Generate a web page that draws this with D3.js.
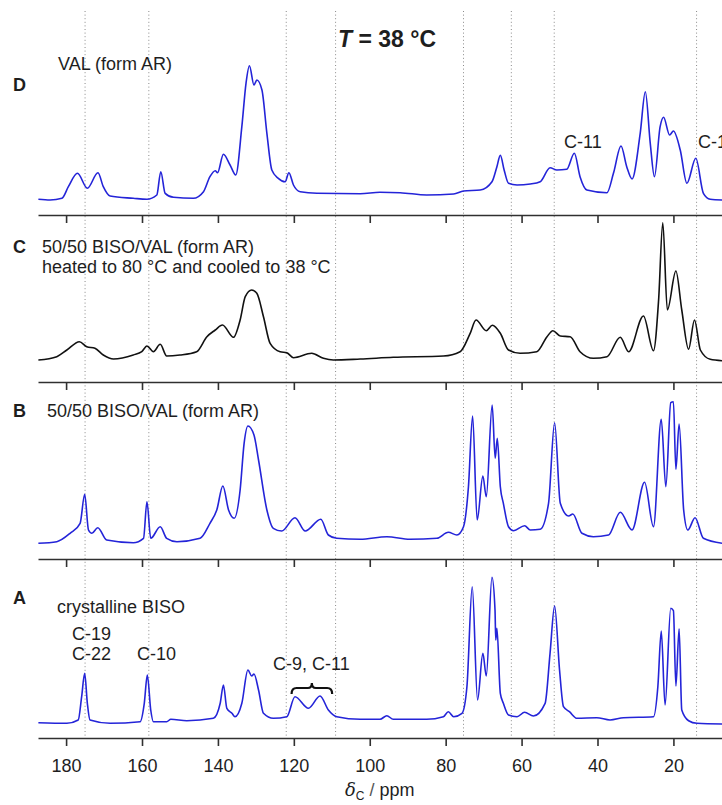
<!DOCTYPE html>
<html>
<head>
<meta charset="utf-8">
<script src="https://cdn.jsdelivr.net/npm/d3@7"></script>
<style>
  html, body { margin: 0; padding: 0; background: #fff; }
  svg { display: block; }
  text { font-family: "Liberation Sans", Arial, Helvetica, sans-serif; fill: #1e1e1e; }
</style>
</head>
<body>
<svg id="chart" width="722" height="805"></svg>
<script>
// 13C CP/MAS spectra, chemical shift (ppm) vs. intensity (a.u.)
const ppmTicks = [180, 160, 140, 120, 100, 80, 60, 40, 20];
const guideShifts = [175, 158.2, 122, 109, 75.3, 62.7, 51.4, 13.9];

// D: VAL (form AR)
const spectrumD = [
  [187.3,15.7],[184.2,15],[181.1,16.7],[179.4,28.3],[177.0,41.7],[174.4,26.7],[171.6,42.3],[170.2,28.3],
  [168.4,19],[162.3,16.7],[158.7,15.7],[156.1,20],[155.05,43.3],[153.9,21.7],[151.7,17.7],[146.5,16.7],
  [143.8,23.3],[142.1,38.3],[140.7,44.3],[140.1,42.3],[138.55,60.7],[136.8,50],[135.3,40],[133.7,88.3],
  [132.6,131.7],[131.7,149.3],[130.5,130],[129.75,135],[128.4,125],[127.1,81.7],[125.8,45],[124.1,36.7],
  [122.3,33.3],[121.3,42.3],[120.1,30],[118.3,23.3],[113.9,21.7],[102.5,21.3],[97.3,22.7],[92.0,22.3],
  [85.0,20],[77.9,21],[75.3,24],[70.9,25],[67.8,33.3],[66.5,48.3],[65.6,59.7],[64.6,45],[63.45,31.7],
  [61.2,30],[57.7,31],[55.1,33.3],[52.5,47.3],[50.7,45],[48.1,45.7],[46.1,61.7],[44.6,38.3],[42.8,25],
  [37.5,22.3],[35.8,41.7],[33.8,69],[32.3,48.3],[30.9,36],[28.75,81.7],[27.4,123.3],[26.1,71.7],[25.0,38.3],
  [23.5,88.3],[22.6,97.7],[21.0,80],[20.0,84],[18.2,65],[16.45,31.7],[14.1,56.7],[12.1,21.7],[10.3,15.7],
  [7.1,15]
];

// C: 50/50 BISO/VAL (form AR), heated to 80 °C and cooled to 38 °C
const spectrumC = [
  [187.3,22],[182.45,25.3],[179.8,32],[176.5,40.3],[174.55,35.3],[172.4,33.7],[170.2,27],[167.5,23],
  [162.3,27],[160.05,30.3],[158.7,36],[157.0,30.3],[155.2,37.7],[153.5,26],[150.0,27],[145.6,30.3],
  [142.9,45.3],[140.7,52],[138.8,57],[135.9,44.7],[134.15,62],[132.8,85.3],[131.1,92],[129.75,88.7],
  [128.0,65.3],[126.25,38.7],[123.6,30.3],[121.85,29.3],[120.1,24.3],[115.3,28.7],[112.2,23.7],[109.6,22],
  [102.5,23],[93.8,24.7],[80.6,26],[76.2,30.3],[73.55,48.7],[72.0,62],[69.3,51.3],[67.7,56.7],[65.6,48.7],
  [63.45,32],[60.4,28.7],[56.0,30.3],[53.3,45.3],[51.75,51.3],[49.8,46],[47.2,45.3],[44.6,30.3],[41.1,23.7],
  [37.5,25.3],[34.0,44.7],[31.8,30.3],[27.9,66],[25.25,31.3],[23.9,82],[22.8,159.3],[21.6,72],[19.35,111],
  [17.8,72],[16.0,32.7],[14.45,62],[12.9,32],[10.3,22.7],[7.1,21.3]
];

// B: 50/50 BISO/VAL (form AR)
const spectrumB = [
  [187.3,15.7],[182.45,17.3],[178.95,25.7],[176.3,35.7],[175.1,64.7],[174.1,29],[173.2,25.7],[171.65,31.3],
  [169.3,19],[162.3,16.3],[159.6,20.7],[158.7,57.3],[157.7,20.7],[155.2,32.3],[153.5,20.7],[150.8,17.3],
  [144.7,20.7],[142.1,35.7],[140.3,49],[138.7,73],[137.2,49],[135.7,40.7],[134.15,69],[133.1,115.7],
  [132.1,133],[130.5,124],[129.3,99],[127.1,49],[125.4,30.7],[123.2,28],[119.7,41.3],[117.0,28],
  [112.9,39.7],[110.9,24],[108.7,20.7],[102.5,19.7],[95.5,22.3],[89.4,19.7],[82.3,20.7],[79.3,26.7],
  [77.05,24],[75.3,32.3],[74.0,72.3],[72.9,143],[71.7,39],[70.2,83],[69.3,62.3],[67.75,154],[66.95,100.7],
  [66.4,120.7],[65.6,72.3],[64.8,55.7],[63.45,32.3],[62.1,28.3],[59.2,33.3],[57.7,29],[55.1,29.7],
  [52.9,55.7],[51.3,136.3],[49.8,55.7],[47.6,43],[46.5,45],[44.1,25.7],[41.1,22.3],[37.1,24],[34.0,46.7],
  [30.9,29],[27.6,76.7],[25.25,32.3],[23.2,139.7],[22.0,72.3],[20.7,156.3],[20.0,157.3],[19.35,89.7],
  [18.5,135],[17.3,49],[16.2,29],[14.3,41.3],[12.1,20.7],[7.1,15.7]
];

// A: crystalline BISO
const spectrumA = [
  [187.3,15.3],[179.8,14.7],[176.8,18],[175.9,41.3],[175.1,64.7],[174.4,34.7],[173.7,18],[168.4,14.7],
  [160.5,16.3],[159.4,34.7],[158.6,63],[157.7,28],[157.0,16.3],[153.5,16.3],[152.4,18.7],[148.2,17.3],
  [141.2,19.7],[139.4,34.7],[138.55,53],[137.65,29.7],[136.3,24.7],[135.5,21.3],[133.7,34.7],[132.1,68],
  [131.1,62],[130.5,64],[129.3,48],[128.0,24.7],[125.4,19.7],[121.85,21.3],[119.7,41.3],[116.15,29.7],
  [113.1,42],[110.9,28],[108.7,21.3],[102.5,18.7],[97.3,18.7],[95.5,22.3],[93.8,18.7],[85.0,18.7],
  [80.6,21.3],[79.3,26.3],[77.9,21.3],[75.7,24.7],[74.4,51.3],[73.0,151.3],[71.6,38],[70.2,84.7],[69.3,62],
  [67.8,160.7],[67.0,128],[66.8,98],[66.5,109.7],[65.6,44.7],[64.8,34.7],[63.45,23],[61.2,21.3],[59.2,25.7],
  [56.9,22],[53.8,34.7],[52.5,84.7],[51.3,132],[50.0,68],[48.96,31.3],[47.4,26.3],[45.4,19.7],[40.2,20.3],
  [36.7,18],[33.15,20.3],[25.25,21.3],[24.1,51.3],[23.2,107],[22.2,33],[20.7,129.7],[20.0,127.3],
  [19.35,52],[18.5,109.3],[17.8,28],[16.0,17.3],[13.8,14.7],[7.1,14]
];

const panelLetters = ["D", "C", "B", "A"];
const panelTitles = [
  ["VAL (form AR)"],
  ["50/50 BISO/VAL (form AR)", "heated to 80 °C and cooled to 38 °C"],
  ["50/50 BISO/VAL (form AR)"],
  ["crystalline BISO"]
];
const panelSpectra = [spectrumD, spectrumC, spectrumB, spectrumA];
const panelColors = ["#2424d8", "#111111", "#2424d8", "#2424d8"];

// ---- layout ----
const W = 722, H = 805;
const axisRows = [215, 382, 559, 738];          // y of each panel's baseline axis
const letterPos = [[13, 91], [13, 253], [13, 417], [13, 604]];
const titlePos  = [[58, 70], [42, 253], [47, 417], [57, 613]];

const svg = d3.select("#chart");

const x = d3.scaleLinear().domain([187.4, 7.2]).range([38, 722]);

// dotted guide lines through all panels
svg.append("g")
  .selectAll("line")
  .data(guideShifts)
  .join("line")
  .attr("x1", d => x(d)).attr("x2", d => x(d))
  .attr("y1", 11).attr("y2", 738)
  .attr("stroke", "#8a8a8a")
  .attr("stroke-width", 1)
  .attr("stroke-dasharray", "1,2.6");

const line = d3.line().curve(d3.curveMonotoneX);

panelSpectra.forEach((data, i) => {
  const base = axisRows[i];
  const y = d3.scaleLinear().domain([0, 200]).range([base, base - 200]);
  const g = svg.append("g");

  // axis
  const ax = d3.axisBottom(x)
    .tickValues(ppmTicks)
    .tickSize(8)
    .tickSizeOuter(0)
    .tickFormat(i === 3 ? d3.format("d") : () => "");
  const axg = g.append("g").attr("transform", `translate(0,${base})`).call(ax);
  axg.select(".domain").attr("stroke", "#303030").attr("stroke-width", 1.6);
  axg.selectAll(".tick line").attr("stroke", "#303030").attr("stroke-width", 1.6);
  axg.selectAll(".tick text")
    .attr("font-size", 18)
    .attr("fill", "#1e1e1e")
    .attr("font-family", "Liberation Sans, Arial, sans-serif")
    .attr("dy", 0).attr("y", 34);

  // spectrum trace
  line.x(d => x(d[0])).y(d => y(d[1]));
  g.append("path")
    .datum(data)
    .attr("fill", "none")
    .attr("stroke", panelColors[i])
    .attr("stroke-width", 1.6)
    .attr("stroke-linejoin", "round")
    .attr("d", line);

  // panel letter
  g.append("text")
    .attr("x", letterPos[i][0]).attr("y", letterPos[i][1])
    .attr("font-size", 18).attr("font-weight", "bold")
    .text(panelLetters[i]);

  // panel description
  panelTitles[i].forEach((t, k) => {
    g.append("text")
      .attr("x", titlePos[i][0]).attr("y", titlePos[i][1] + k * 19.5)
      .attr("font-size", 18)
      .text(t);
  });
});

// temperature header
const hdr = svg.append("text")
  .attr("x", 338).attr("y", 47)
  .attr("font-size", 23).attr("font-weight", "bold");
hdr.append("tspan").attr("font-style", "italic").text("T");
hdr.append("tspan").text(" = 38 °C");

// peak assignments
const notes = [
  ["C-11", 564, 148],
  ["C-12", 698, 148],
  ["C-19", 72, 640],
  ["C-22", 72, 660],
  ["C-10", 137, 660],
  ["C-9, C-11", 273, 670]
];
svg.append("g")
  .selectAll("text")
  .data(notes)
  .join("text")
  .attr("x", d => d[1]).attr("y", d => d[2])
  .attr("font-size", 18)
  .text(d => d[0]);

// brace grouping the C-9 / C-11 signals
{
  const x1 = x(120.6), x2 = x(109.9), xm = (x1 + x2) / 2;
  const yb = 694, yl = 688, yt = 683;
  svg.append("path")
    .attr("d", `M${x1},${yb} Q${x1},${yl} ${x1 + 5},${yl} L${xm - 4},${yl} Q${xm},${yl} ${xm},${yt}` +
               ` Q${xm},${yl} ${xm + 4},${yl} L${x2 - 5},${yl} Q${x2},${yl} ${x2},${yb}`)
    .attr("fill", "none")
    .attr("stroke", "#111")
    .attr("stroke-width", 2.2);
}

// x-axis title
const xt = svg.append("text")
  .attr("x", 345).attr("y", 796)
  .attr("font-size", 18);
xt.append("tspan").attr("font-family", "DejaVu Serif, serif").attr("font-style", "italic").text("δ");
xt.append("tspan").attr("font-size", 12).attr("dy", 4).text("C");
xt.append("tspan").attr("dy", -4).attr("fill", "#555").text(" / ");
xt.append("tspan").text("ppm");
</script>
</body>
</html>
